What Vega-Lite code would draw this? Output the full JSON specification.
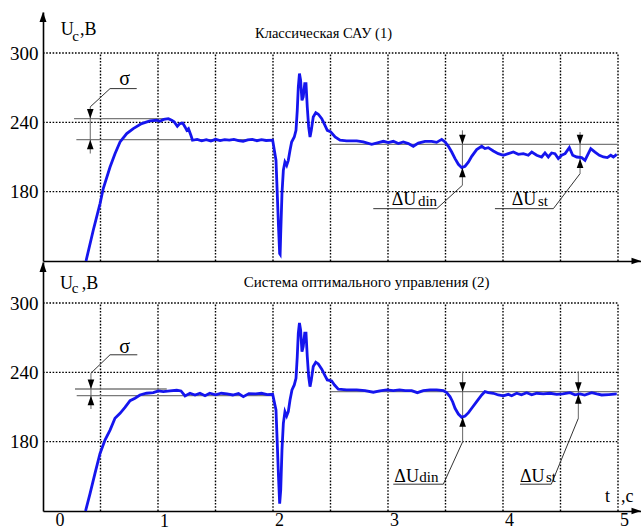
{
  "$schema": "https://vega.github.io/schema/vega-lite/v6.json",
  "padding": {"left": 0, "top": 12, "right": 0, "bottom": 0},
  "background": "white",
  "config": {
    "view": {"stroke": null},
    "axis": {"labelFont": "Liberation Serif", "labelColor": "#000", "domainColor": "#000", "domainWidth": 1.6, "ticks": false, "grid": false, "title": null},
    "text": {"font": "Liberation Serif", "color": "#000"}
  },
  "datasets": {
    "vgrid": [{"t": 0.5, "v": 120, "v2": 300}, {"t": 1, "v": 120, "v2": 300}, {"t": 1.5, "v": 120, "v2": 300}, {"t": 2, "v": 120, "v2": 300}, {"t": 2.5, "v": 120, "v2": 300}, {"t": 3, "v": 120, "v2": 300}, {"t": 3.5, "v": 120, "v2": 300}, {"t": 4, "v": 120, "v2": 300}, {"t": 4.5, "v": 120, "v2": 300}, {"t": 5, "v": 120, "v2": 300}],
    "hgrid": [{"v": 180, "t": 0, "t2": 5}, {"v": 240, "t": 0, "t2": 5}, {"v": 300, "t": 0, "t2": 5}],
    "tipY": [{"t": 0, "v": 335.5}],
    "tipX": [{"t": 5.2, "v": 120}],
    "curve1": [
      {"t": 0.374, "v": 120}, {"t": 0.437, "v": 146.6}, {"t": 0.496, "v": 169.7}, {"t": 0.524, "v": 182.7}, {"t": 0.583, "v": 201.3}, {"t": 0.626, "v": 212.9}, {"t": 0.67, "v": 223}, {"t": 0.728, "v": 230.3}, {"t": 0.785, "v": 234.6}, {"t": 0.858, "v": 238.9}, {"t": 0.93, "v": 241.2}, {"t": 0.988, "v": 241.8}, {"t": 1.017, "v": 240.9}, {"t": 1.05, "v": 242.5}, {"t": 1.09, "v": 243.2}, {"t": 1.119, "v": 241.8}, {"t": 1.14, "v": 240.5}, {"t": 1.168, "v": 236.6}, {"t": 1.19, "v": 238.9}, {"t": 1.215, "v": 239.4}, {"t": 1.235, "v": 236}, {"t": 1.25, "v": 233.1}, {"t": 1.265, "v": 234.5}, {"t": 1.286, "v": 228.8}, {"t": 1.3, "v": 224.5}, {"t": 1.34, "v": 225.2}, {"t": 1.38, "v": 224}, {"t": 1.42, "v": 225}, {"t": 1.46, "v": 223.8}, {"t": 1.5, "v": 225.3}, {"t": 1.54, "v": 224.2}, {"t": 1.58, "v": 225}, {"t": 1.62, "v": 224.6}, {"t": 1.66, "v": 225.3}, {"t": 1.7, "v": 224.2}, {"t": 1.74, "v": 223.5}, {"t": 1.78, "v": 224.8}, {"t": 1.82, "v": 225.2}, {"t": 1.86, "v": 224.1}, {"t": 1.9, "v": 225}, {"t": 1.94, "v": 224.3}, {"t": 1.997, "v": 224.6},
      {"t": 2.026, "v": 207.2}, {"t": 2.037, "v": 178.3}, {"t": 2.048, "v": 149.4}, {"t": 2.058, "v": 126.4}, {"t": 2.062, "v": 125.8}, {"t": 2.067, "v": 143.7}, {"t": 2.078, "v": 178.3}, {"t": 2.09, "v": 198.5}, {"t": 2.104, "v": 205.7}, {"t": 2.119, "v": 202.8}, {"t": 2.133, "v": 207.1}, {"t": 2.148, "v": 215.8}, {"t": 2.162, "v": 223}, {"t": 2.185, "v": 227.3}, {"t": 2.2, "v": 233.1}, {"t": 2.211, "v": 250.4}, {"t": 2.22, "v": 270.6}, {"t": 2.23, "v": 282.2}, {"t": 2.24, "v": 276.4}, {"t": 2.252, "v": 259}, {"t": 2.263, "v": 262}, {"t": 2.276, "v": 273.5}, {"t": 2.287, "v": 273.5}, {"t": 2.298, "v": 253.3}, {"t": 2.31, "v": 236}, {"t": 2.322, "v": 227.3}, {"t": 2.333, "v": 233.1}, {"t": 2.35, "v": 244.6}, {"t": 2.372, "v": 248.4}, {"t": 2.394, "v": 247}, {"t": 2.424, "v": 243.2}, {"t": 2.452, "v": 237.4}, {"t": 2.472, "v": 233.1}, {"t": 2.5, "v": 232}, {"t": 2.54, "v": 227.3}, {"t": 2.583, "v": 224.5}, {"t": 2.64, "v": 223.9}, {"t": 2.728, "v": 223.9}, {"t": 2.785, "v": 223}, {"t": 2.858, "v": 221}, {"t": 2.916, "v": 222.5}, {"t": 2.96, "v": 223.6}, {"t": 3.003, "v": 222.5}, {"t": 3.046, "v": 223.6}, {"t": 3.09, "v": 221.6}, {"t": 3.133, "v": 223}, {"t": 3.177, "v": 221.6}, {"t": 3.22, "v": 219.3}, {"t": 3.264, "v": 222.1}, {"t": 3.322, "v": 223.6}, {"t": 3.38, "v": 223.6}, {"t": 3.423, "v": 222.7}, {"t": 3.467, "v": 225.3}, {"t": 3.496, "v": 223}, {"t": 3.525, "v": 219.3}, {"t": 3.554, "v": 214.3}, {"t": 3.583, "v": 208.6}, {"t": 3.612, "v": 203.7}, {"t": 3.641, "v": 200.8}, {"t": 3.67, "v": 202}, {"t": 3.7, "v": 205.7}, {"t": 3.728, "v": 210.6}, {"t": 3.771, "v": 216.4}, {"t": 3.815, "v": 219.3}, {"t": 3.843, "v": 217.3}, {"t": 3.872, "v": 218.1}, {"t": 3.916, "v": 215.2}, {"t": 3.959, "v": 212.9}, {"t": 4.003, "v": 211.5}, {"t": 4.046, "v": 212.9}, {"t": 4.09, "v": 214.3}, {"t": 4.133, "v": 212.3}, {"t": 4.177, "v": 212.9}, {"t": 4.22, "v": 211.5}, {"t": 4.25, "v": 214.3}, {"t": 4.293, "v": 211.5}, {"t": 4.336, "v": 210}, {"t": 4.365, "v": 213.5}, {"t": 4.394, "v": 210}, {"t": 4.423, "v": 213.5}, {"t": 4.452, "v": 212.9}, {"t": 4.481, "v": 208.6}, {"t": 4.51, "v": 211.5}, {"t": 4.54, "v": 212.9}, {"t": 4.577, "v": 218.1}, {"t": 4.606, "v": 211.5}, {"t": 4.641, "v": 210}, {"t": 4.684, "v": 209.5}, {"t": 4.713, "v": 207.1}, {"t": 4.734, "v": 211.5}, {"t": 4.763, "v": 217.3}, {"t": 4.8, "v": 214.3}, {"t": 4.838, "v": 211.5}, {"t": 4.873, "v": 210}, {"t": 4.907, "v": 209.5}, {"t": 4.937, "v": 211.5}, {"t": 4.96, "v": 210}, {"t": 4.989, "v": 212.3}
    ],
    "curve2": [
      {"t": 0.37, "v": 120}, {"t": 0.409, "v": 135.1}, {"t": 0.452, "v": 152.5}, {"t": 0.496, "v": 169.8}, {"t": 0.539, "v": 181.4}, {"t": 0.583, "v": 190}, {"t": 0.626, "v": 200.2}, {"t": 0.67, "v": 204.5}, {"t": 0.713, "v": 209.7}, {"t": 0.757, "v": 215.5}, {"t": 0.8, "v": 217.6}, {"t": 0.843, "v": 220.4}, {"t": 0.9, "v": 221.9}, {"t": 0.959, "v": 222.4}, {"t": 1.003, "v": 223.9}, {"t": 1.046, "v": 223.3}, {"t": 1.104, "v": 223.9}, {"t": 1.163, "v": 224.5}, {"t": 1.2, "v": 223.9}, {"t": 1.235, "v": 219.6}, {"t": 1.278, "v": 221.9}, {"t": 1.322, "v": 220.4}, {"t": 1.365, "v": 221.9}, {"t": 1.409, "v": 219.8}, {"t": 1.45, "v": 221.9}, {"t": 1.5, "v": 220.6}, {"t": 1.55, "v": 221.9}, {"t": 1.6, "v": 221.3}, {"t": 1.65, "v": 220.4}, {"t": 1.7, "v": 221.6}, {"t": 1.742, "v": 219}, {"t": 1.79, "v": 221.6}, {"t": 1.85, "v": 221.3}, {"t": 1.9, "v": 221.9}, {"t": 1.95, "v": 220.8}, {"t": 1.997, "v": 221},
      {"t": 2.026, "v": 207.4}, {"t": 2.037, "v": 178.5}, {"t": 2.048, "v": 149.5}, {"t": 2.058, "v": 126.4}, {"t": 2.067, "v": 138}, {"t": 2.078, "v": 172.7}, {"t": 2.09, "v": 195.9}, {"t": 2.104, "v": 205.9}, {"t": 2.119, "v": 202.2}, {"t": 2.133, "v": 205.9}, {"t": 2.148, "v": 216.1}, {"t": 2.165, "v": 224.8}, {"t": 2.185, "v": 229.1}, {"t": 2.2, "v": 234.9}, {"t": 2.211, "v": 253.7}, {"t": 2.22, "v": 274}, {"t": 2.23, "v": 282.7}, {"t": 2.24, "v": 276.8}, {"t": 2.252, "v": 258}, {"t": 2.263, "v": 262.3}, {"t": 2.276, "v": 274}, {"t": 2.287, "v": 274}, {"t": 2.298, "v": 253.7}, {"t": 2.31, "v": 236.3}, {"t": 2.322, "v": 227.6}, {"t": 2.333, "v": 233.4}, {"t": 2.35, "v": 245}, {"t": 2.372, "v": 248.8}, {"t": 2.394, "v": 247.3}, {"t": 2.424, "v": 242.7}, {"t": 2.452, "v": 237.2}, {"t": 2.472, "v": 233.4}, {"t": 2.51, "v": 232.6}, {"t": 2.535, "v": 229}, {"t": 2.568, "v": 225.4}, {"t": 2.64, "v": 224.8}, {"t": 2.728, "v": 224.8}, {"t": 2.8, "v": 224.2}, {"t": 2.872, "v": 222.8}, {"t": 2.93, "v": 223.9}, {"t": 2.988, "v": 224.8}, {"t": 3.046, "v": 224.2}, {"t": 3.1, "v": 224.8}, {"t": 3.15, "v": 224.2}, {"t": 3.206, "v": 224.2}, {"t": 3.255, "v": 222.4}, {"t": 3.307, "v": 224.2}, {"t": 3.365, "v": 224.8}, {"t": 3.423, "v": 224.8}, {"t": 3.481, "v": 224.2}, {"t": 3.51, "v": 222.4}, {"t": 3.539, "v": 219}, {"t": 3.562, "v": 214.6}, {"t": 3.583, "v": 208.9}, {"t": 3.612, "v": 203.9}, {"t": 3.641, "v": 201.1}, {"t": 3.67, "v": 202.2}, {"t": 3.7, "v": 205.1}, {"t": 3.728, "v": 208.9}, {"t": 3.771, "v": 214.6}, {"t": 3.815, "v": 220.4}, {"t": 3.843, "v": 223.3}, {"t": 3.872, "v": 222.4}, {"t": 3.916, "v": 221.9}, {"t": 3.959, "v": 220.4}, {"t": 4.003, "v": 219.6}, {"t": 4.046, "v": 221}, {"t": 4.075, "v": 219.8}, {"t": 4.119, "v": 221.9}, {"t": 4.16, "v": 220.6}, {"t": 4.206, "v": 222.4}, {"t": 4.25, "v": 220.6}, {"t": 4.293, "v": 221.9}, {"t": 4.35, "v": 221.3}, {"t": 4.41, "v": 221.9}, {"t": 4.467, "v": 221}, {"t": 4.52, "v": 221.3}, {"t": 4.583, "v": 222.4}, {"t": 4.625, "v": 220.6}, {"t": 4.67, "v": 221.3}, {"t": 4.71, "v": 220.4}, {"t": 4.771, "v": 222.4}, {"t": 4.815, "v": 221.3}, {"t": 4.858, "v": 220.4}, {"t": 4.92, "v": 220.8}, {"t": 4.989, "v": 221.3}
    ],
    "ref1": [{"t": 0.27, "v": 243.3, "t2": 1.09, "v2": 243.3}, {"t": 0.29, "v": 225, "t2": 2.0, "v2": 225}, {"t": 2.5, "v": 221, "t2": 5, "v2": 221}],
    "shaft1": [{"t": 0.411, "v": 253.4, "t2": 0.411, "v2": 213}, {"t": 3.647, "v": 233.1, "t2": 3.647, "v2": 185.5}, {"t": 4.67, "v": 231.6, "t2": 4.67, "v2": 195.6}],
    "lead1": [{"t": 0.411, "v": 253.4, "t2": 0.583, "v2": 269.2}, {"t": 0.583, "v": 269.2, "t2": 0.815, "v2": 269.2}, {"t": 3.647, "v": 185.5, "t2": 3.424, "v2": 165.3}, {"t": 3.424, "v": 165.3, "t2": 2.872, "v2": 165.3}, {"t": 4.67, "v": 195.6, "t2": 4.438, "v2": 165.3}, {"t": 4.438, "v": 165.3, "t2": 3.93, "v2": 165.3}],
    "down1": [{"t": 0.411, "v": 243.3}, {"t": 3.647, "v": 221}, {"t": 4.67, "v": 221}],
    "up1": [{"t": 0.411, "v": 225}, {"t": 3.647, "v": 200.8}, {"t": 4.67, "v": 208.6}],
    "text1": [
      {"role": "title", "label": "Классическая САУ (1)", "t": 2.439, "v": 313.3},
      {"role": "sigma", "label": "σ", "t": 0.71, "v": 272},
      {"role": "big", "label": "ΔU", "t": 3.032, "v": 168.2},
      {"role": "sub", "label": "din", "t": 3.26, "v": 167.3},
      {"role": "big", "label": "ΔU", "t": 4.076, "v": 168.2},
      {"role": "sub", "label": "st", "t": 4.304, "v": 167.3},
      {"role": "ulab", "label": "U", "t": 0.154, "v": 315.3},
      {"role": "csub", "label": "c", "t": 0.255, "v": 310.1},
      {"role": "ulab", "label": ",B", "t": 0.322, "v": 315.3}
    ],
    "ref2": [{"t": 0.278, "v": 225.6, "t2": 1.076, "v2": 225.6}, {"t": 0.293, "v": 219.8, "t2": 2.0, "v2": 219.8}, {"t": 2.5, "v": 223.3, "t2": 5, "v2": 223.3}],
    "shaft2": [{"t": 0.417, "v": 239.3, "t2": 0.417, "v2": 208.3}, {"t": 3.649, "v": 240.7, "t2": 3.649, "v2": 179.9}, {"t": 4.655, "v": 240.7, "t2": 4.655, "v2": 200.2}],
    "lead2": [{"t": 0.417, "v": 239.3, "t2": 0.583, "v2": 255.2}, {"t": 0.583, "v": 255.2, "t2": 0.82, "v2": 255.2}, {"t": 3.649, "v": 179.9, "t2": 3.481, "v2": 143.2}, {"t": 3.481, "v": 143.2, "t2": 3.046, "v2": 143.2}, {"t": 4.655, "v": 200.2, "t2": 4.42, "v2": 143.2}, {"t": 4.42, "v": 143.2, "t2": 4.148, "v2": 143.2}],
    "down2": [{"t": 0.417, "v": 225.6}, {"t": 3.649, "v": 223.3}, {"t": 4.655, "v": 223.3}],
    "up2": [{"t": 0.417, "v": 219.8}, {"t": 3.649, "v": 201.1}, {"t": 4.655, "v": 221}],
    "text2": [
      {"role": "title", "label": "Система оптимального управления (2)", "t": 2.815, "v": 313.9},
      {"role": "sigma", "label": "σ", "t": 0.71, "v": 256.9},
      {"role": "big", "label": "ΔU", "t": 3.055, "v": 145.2},
      {"role": "sub", "label": "din", "t": 3.272, "v": 145.2},
      {"role": "big", "label": "ΔU", "t": 4.148, "v": 145.2},
      {"role": "sub", "label": "st", "t": 4.374, "v": 145.2},
      {"role": "ulab", "label": "U", "t": 0.148, "v": 312.2},
      {"role": "csub", "label": "c", "t": 0.25, "v": 308.7},
      {"role": "ulab", "label": ",B", "t": 0.337, "v": 312.2},
      {"role": "ulab", "label": "t", "t": 4.887, "v": 128},
      {"role": "ulab", "label": ",c", "t": 5.026, "v": 128}
    ]
  },
  "vconcat": [
    {
      "width": 598,
      "height": 249,
      "encoding": {
        "x": {"field": "t", "type": "quantitative", "scale": {"domain": [0, 5.2], "nice": false, "zero": false}, "axis": {"labels": false, "ticks": false, "grid": false, "title": null, "domainColor": "#000", "domainWidth": 1.6}},
        "y": {"field": "v", "type": "quantitative", "scale": {"domain": [120, 335.5], "nice": false, "zero": false}, "axis": {"values": [180, 240, 300], "ticks": false, "grid": false, "title": null, "labelFont": "Liberation Serif", "labelFontSize": 19, "labelColor": "#000", "labelPadding": 5, "minExtent": 43, "maxExtent": 43, "domainColor": "#000", "domainWidth": 1.6}}
      },
      "layer": [
        {"data": {"name": "vgrid"}, "mark": {"type": "rule", "color": "#000", "strokeWidth": 1.4, "strokeDash": [1.6, 1.6]}, "encoding": {"y2": {"field": "v2"}}},
        {"data": {"name": "hgrid"}, "mark": {"type": "rule", "color": "#000", "strokeWidth": 1.4, "strokeDash": [1.6, 1.6]}, "encoding": {"x2": {"field": "t2"}}},
        {"data": {"name": "ref1"}, "mark": {"type": "rule", "color": "#7a7a7a", "strokeWidth": 1.3}, "encoding": {"x2": {"field": "t2"}, "y2": {"field": "v2"}}},
        {"data": {"name": "shaft1"}, "mark": {"type": "rule", "color": "#666", "strokeWidth": 1}, "encoding": {"x2": {"field": "t2"}, "y2": {"field": "v2"}}},
        {"data": {"name": "lead1"}, "mark": {"type": "rule", "color": "#333", "strokeWidth": 1}, "encoding": {"x2": {"field": "t2"}, "y2": {"field": "v2"}}},
        {"data": {"name": "curve1"}, "mark": {"type": "line", "color": "#1515ee", "strokeWidth": 2.8}},
        {"data": {"name": "down1"}, "mark": {"type": "point", "filled": true, "color": "#000", "opacity": 1, "size": 90, "shape": "M0,0L0.7,-2L-0.7,-2Z"}},
        {"data": {"name": "up1"}, "mark": {"type": "point", "filled": true, "color": "#000", "opacity": 1, "size": 90, "shape": "M0,0L0.7,2L-0.7,2Z"}},
        {"data": {"name": "tipY"}, "mark": {"type": "point", "filled": true, "color": "#000", "opacity": 1, "size": 100, "shape": "M0,0L0.7,2L-0.7,2Z"}},
        {"data": {"name": "tipX"}, "mark": {"type": "point", "filled": true, "color": "#000", "opacity": 1, "size": 90, "shape": "M0,0L-2,-0.7L-2,0.7Z"}},
        {"data": {"name": "text1"}, "transform": [{"filter": "datum.role == 'title'"}], "mark": {"type": "text", "font": "Liberation Serif", "fontSize": 14.5, "align": "center", "baseline": "alphabetic"}, "encoding": {"text": {"field": "label"}}},
        {"data": {"name": "text1"}, "transform": [{"filter": "datum.role == 'sigma'"}], "mark": {"type": "text", "font": "Liberation Serif", "fontSize": 20, "align": "center", "baseline": "alphabetic"}, "encoding": {"text": {"field": "label"}}},
        {"data": {"name": "text1"}, "transform": [{"filter": "datum.role == 'big'"}], "mark": {"type": "text", "font": "Liberation Serif", "fontSize": 18, "align": "left", "baseline": "alphabetic"}, "encoding": {"text": {"field": "label"}}},
        {"data": {"name": "text1"}, "transform": [{"filter": "datum.role == 'sub'"}], "mark": {"type": "text", "font": "Liberation Serif", "fontSize": 15, "align": "left", "baseline": "alphabetic"}, "encoding": {"text": {"field": "label"}}},
        {"data": {"name": "text1"}, "transform": [{"filter": "datum.role == 'ulab'"}], "mark": {"type": "text", "font": "Liberation Serif", "fontSize": 18, "align": "left", "baseline": "alphabetic"}, "encoding": {"text": {"field": "label"}}},
        {"data": {"name": "text1"}, "transform": [{"filter": "datum.role == 'csub'"}], "mark": {"type": "text", "font": "Liberation Serif", "fontSize": 15, "align": "left", "baseline": "alphabetic"}, "encoding": {"text": {"field": "label"}}}
      ]
    },
    {
      "width": 598,
      "height": 249,
      "encoding": {
        "x": {"field": "t", "type": "quantitative", "scale": {"domain": [0, 5.2], "nice": false, "zero": false}, "axis": {"values": [0, 1, 2, 3, 4, 5], "ticks": false, "grid": false, "title": null, "labelFont": "Liberation Serif", "labelFontSize": 18, "labelColor": "#000", "labelPadding": {"condition": {"test": "datum.value == 1", "value": 1}, "value": 0}, "labelOffset": {"condition": {"test": "datum.value == 0", "value": 12}, "value": 6}, "domainColor": "#000", "domainWidth": 1.6}},
        "y": {"field": "v", "type": "quantitative", "scale": {"domain": [120, 335.5], "nice": false, "zero": false}, "axis": {"values": [180, 240, 300], "ticks": false, "grid": false, "title": null, "labelFont": "Liberation Serif", "labelFontSize": 19, "labelColor": "#000", "labelPadding": 5, "minExtent": 43, "maxExtent": 43, "domainColor": "#000", "domainWidth": 1.6}}
      },
      "layer": [
        {"data": {"name": "vgrid"}, "mark": {"type": "rule", "color": "#000", "strokeWidth": 1.4, "strokeDash": [1.6, 1.6]}, "encoding": {"y2": {"field": "v2"}}},
        {"data": {"name": "hgrid"}, "mark": {"type": "rule", "color": "#000", "strokeWidth": 1.4, "strokeDash": [1.6, 1.6]}, "encoding": {"x2": {"field": "t2"}}},
        {"data": {"name": "ref2"}, "mark": {"type": "rule", "color": "#7a7a7a", "strokeWidth": 1.3}, "encoding": {"x2": {"field": "t2"}, "y2": {"field": "v2"}}},
        {"data": {"name": "shaft2"}, "mark": {"type": "rule", "color": "#666", "strokeWidth": 1}, "encoding": {"x2": {"field": "t2"}, "y2": {"field": "v2"}}},
        {"data": {"name": "lead2"}, "mark": {"type": "rule", "color": "#333", "strokeWidth": 1}, "encoding": {"x2": {"field": "t2"}, "y2": {"field": "v2"}}},
        {"data": {"name": "curve2"}, "mark": {"type": "line", "color": "#1515ee", "strokeWidth": 2.8}},
        {"data": {"name": "down2"}, "mark": {"type": "point", "filled": true, "color": "#000", "opacity": 1, "size": 90, "shape": "M0,0L0.7,-2L-0.7,-2Z"}},
        {"data": {"name": "up2"}, "mark": {"type": "point", "filled": true, "color": "#000", "opacity": 1, "size": 90, "shape": "M0,0L0.7,2L-0.7,2Z"}},
        {"data": {"name": "tipY"}, "mark": {"type": "point", "filled": true, "color": "#000", "opacity": 1, "size": 100, "shape": "M0,0L0.7,2L-0.7,2Z"}},
        {"data": {"name": "tipX"}, "mark": {"type": "point", "filled": true, "color": "#000", "opacity": 1, "size": 90, "shape": "M0,0L-2,-0.7L-2,0.7Z"}},
        {"data": {"name": "text2"}, "transform": [{"filter": "datum.role == 'title'"}], "mark": {"type": "text", "font": "Liberation Serif", "fontSize": 15, "align": "center", "baseline": "alphabetic"}, "encoding": {"text": {"field": "label"}}},
        {"data": {"name": "text2"}, "transform": [{"filter": "datum.role == 'sigma'"}], "mark": {"type": "text", "font": "Liberation Serif", "fontSize": 20, "align": "center", "baseline": "alphabetic"}, "encoding": {"text": {"field": "label"}}},
        {"data": {"name": "text2"}, "transform": [{"filter": "datum.role == 'big'"}], "mark": {"type": "text", "font": "Liberation Serif", "fontSize": 18, "align": "left", "baseline": "alphabetic"}, "encoding": {"text": {"field": "label"}}},
        {"data": {"name": "text2"}, "transform": [{"filter": "datum.role == 'sub'"}], "mark": {"type": "text", "font": "Liberation Serif", "fontSize": 15, "align": "left", "baseline": "alphabetic"}, "encoding": {"text": {"field": "label"}}},
        {"data": {"name": "text2"}, "transform": [{"filter": "datum.role == 'ulab'"}], "mark": {"type": "text", "font": "Liberation Serif", "fontSize": 18, "align": "left", "baseline": "alphabetic"}, "encoding": {"text": {"field": "label"}}},
        {"data": {"name": "text2"}, "transform": [{"filter": "datum.role == 'csub'"}], "mark": {"type": "text", "font": "Liberation Serif", "fontSize": 15, "align": "left", "baseline": "alphabetic"}, "encoding": {"text": {"field": "label"}}}
      ]
    }
  ],
  "spacing": 1,
  "bounds": "flush"
}
